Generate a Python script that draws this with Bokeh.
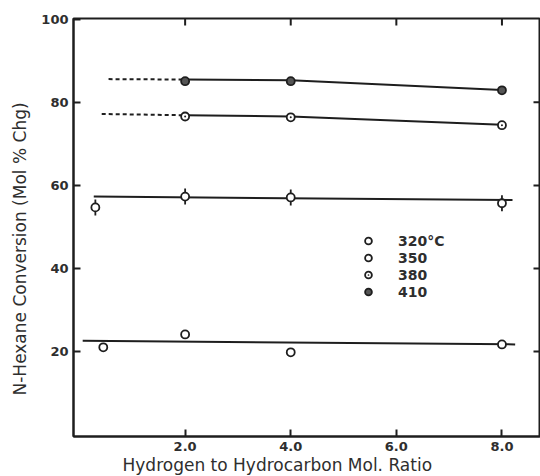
from bokeh.plotting import figure
from bokeh.models import Range1d, FixedTicker, Legend, LegendItem, Title
from bokeh.embed import file_html
from bokeh.resources import INLINE

# ---- data ----
ratio_x_ticks = [2, 4, 6, 8]
conv_y_ticks = [20, 40, 60, 80, 100]
right_y_ticks = [20, 40, 60, 80]

# measured points
x_320 = [0.45, 2.0, 4.0, 8.0]
y_320 = [21.0, 24.1, 19.8, 21.7]

x_350 = [0.30, 2.0, 4.0, 8.0]
y_350 = [54.7, 57.3, 57.1, 55.7]

x_380 = [2.0, 4.0, 8.0]
y_380 = [76.6, 76.4, 74.5]

x_410 = [2.0, 4.0, 8.0]
y_410 = [85.1, 85.1, 82.9]

# drawn trend lines
fit_320_x = [0.06, 8.25]
fit_320_y = [22.6, 21.7]

fit_350_x = [0.27, 8.2]
fit_350_y = [57.3, 56.5]

fit_380_x = [2.0, 4.0, 8.0]
fit_380_y = [76.9, 76.6, 74.6]
ext_380_x = [0.42, 2.0]
ext_380_y = [77.2, 76.9]

fit_410_x = [2.0, 4.0, 8.0]
fit_410_y = [85.5, 85.3, 83.0]
ext_410_x = [0.55, 2.0]
ext_410_y = [85.6, 85.5]

labels = ["320°C", "350", "380", "410"]
x_title = "Hydrogen to Hydrocarbon  Mol. Ratio"
y_title = "N-Hexane Conversion (Mol % Chg)"

# ---- figure ----
INK = "#1e1e1e"
TXT = "#2e2e2e"
FONT = "DejaVu Sans"

p = figure(width=540, height=476, output_backend="svg", toolbar_location=None,
           x_range=Range1d(-0.114, 8.73), y_range=Range1d(-0.48, 100.2),
           min_border_left=73, min_border_right=0, min_border_top=18,
           min_border_bottom=40)
p.background_fill_color = "white"
p.border_fill_color = "white"
p.grid.visible = False
p.outline_line_color = INK
p.outline_line_width = 2

p.xaxis.ticker = FixedTicker(ticks=ratio_x_ticks)
p.xaxis.major_label_overrides = {t: f"{t:.1f}" for t in ratio_x_ticks}
p.yaxis.ticker = FixedTicker(ticks=conv_y_ticks)

for ax in list(p.xaxis) + list(p.yaxis):
    ax.axis_line_color = INK
    ax.axis_line_width = 2
    ax.major_tick_in = 7
    ax.major_tick_out = 0
    ax.major_tick_line_color = INK
    ax.major_tick_line_width = 2
    ax.minor_tick_line_color = None
    ax.major_label_text_font = FONT
    ax.major_label_text_font_size = "13px"
    ax.major_label_text_font_style = "bold"
    ax.major_label_text_color = TXT
    ax.major_label_standoff = 5

# axis titles, offset along the frame like the original
p.add_layout(Title(text=x_title, align="left", offset=49, standoff=0,
                   vertical_align="middle", text_font=FONT, text_font_size="17px",
                   text_font_style="normal", text_color=TXT), "below")
p.add_layout(Title(text=y_title, align="left", offset=41, standoff=16,
                   vertical_align="middle", text_font=FONT, text_font_size="17px",
                   text_font_style="normal", text_color=TXT), "left")

# inner tick marks on the top and right frame edges
p.scatter(ratio_x_ticks, [p.y_range.end] * len(ratio_x_ticks), marker="dash",
          angle=1.5708, size=14, line_color=INK, line_width=2)
p.scatter([p.x_range.end] * len(right_y_ticks), right_y_ticks, marker="dash",
          size=14, line_color=INK, line_width=2)

# trend lines
p.line(fit_320_x, fit_320_y, line_color=INK, line_width=2)
p.line(fit_350_x, fit_350_y, line_color=INK, line_width=2)
p.line(fit_380_x, fit_380_y, line_color=INK, line_width=2)
p.line(fit_410_x, fit_410_y, line_color=INK, line_width=2)
p.line(ext_380_x, ext_380_y, line_color=INK, line_width=2, line_dash="4 3")
p.line(ext_410_x, ext_410_y, line_color=INK, line_width=2, line_dash="4 3")

# markers
r320 = p.scatter(x_320, y_320, marker="circle", size=8, fill_color="white",
                 line_color=INK, line_width=1.8)
r350a = p.scatter(x_350, y_350, marker="dash", angle=1.5708, size=16,
                  line_color=INK, line_width=1.8)
r350 = p.scatter(x_350, y_350, marker="circle", size=8, fill_color="white",
                 line_color=INK, line_width=1.8)
r380 = p.scatter(x_380, y_380, marker="circle_dot", size=8, fill_color="white",
                 line_color=INK, line_width=1.8)
r410 = p.scatter(x_410, y_410, marker="circle", size=8, fill_color="#555555",
                 line_color=INK, line_width=1.8)

legend = Legend(items=[LegendItem(label=labels[0], renderers=[r320]),
                       LegendItem(label=labels[1], renderers=[r350a, r350]),
                       LegendItem(label=labels[2], renderers=[r380]),
                       LegendItem(label=labels[3], renderers=[r410])],
                location=(285, 136), orientation="vertical",
                border_line_alpha=0, background_fill_alpha=0,
                padding=0, margin=0, spacing=0,
                glyph_width=20, glyph_height=17, label_height=17,
                label_standoff=20, label_text_font=FONT,
                label_text_font_size="14px", label_text_font_style="bold",
                label_text_color=TXT)
p.add_layout(legend)

open("out.html", "w").write(file_html(p, INLINE))
